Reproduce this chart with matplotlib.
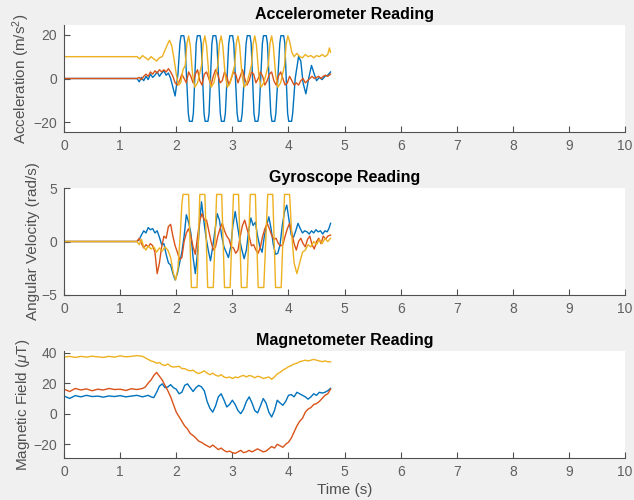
import matplotlib
matplotlib.use("Agg")
import matplotlib.pyplot as plt

# ---------------- Accelerometer ----------------
acc_x_t = [0, 1.30, 1.34, 1.38, 1.42, 1.46, 1.50, 1.54, 1.58, 1.62, 1.66, 1.70, 1.74, 1.78,
           1.82, 1.86, 1.90, 1.94, 1.98, 2.03,
           2.065, 2.085, 2.135, 2.155, 2.215, 2.235, 2.285, 2.305,
           2.355, 2.375, 2.425, 2.445, 2.495, 2.515, 2.565, 2.585,
           2.635, 2.655, 2.705, 2.725, 2.785, 2.805, 2.855, 2.875,
           2.935, 2.955, 3.005, 3.025, 3.085, 3.105, 3.155, 3.175,
           3.245, 3.265, 3.315, 3.335, 3.385, 3.405, 3.455, 3.475,
           3.535, 3.555, 3.605, 3.625, 3.685, 3.705, 3.755, 3.775,
           3.845, 3.865, 3.915, 3.935, 3.985, 4.005, 4.055, 4.075,
           4.12, 4.18, 4.22, 4.26, 4.31, 4.36, 4.41, 4.46, 4.50, 4.55, 4.60, 4.65, 4.70, 4.75]
acc_x_v = [0, 0, -1.5, 0.5, -1, 1, -0.5, 2, 0.5, 1.5, 3, 1, 2.5, 3.5,
           1.5, 2.5, 0, -4, -8, 2,
           16, 19.6, 19.6, 16, -16, -19.6, -19.6, -16,
           16, 19.6, 19.6, 16, -16, -19.6, -19.6, -16,
           16, 19.6, 19.6, 16, -16, -19.6, -19.6, -16,
           16, 19.6, 19.6, 16, -16, -19.6, -19.6, -16,
           16, 19.6, 19.6, 16, -16, -19.6, -19.6, -16,
           16, 19.6, 19.6, 16, -16, -19.6, -19.6, -16,
           16, 19.6, 19.6, 16, -16, -19.6, -19.6, -16,
           0, 10, 8, -2, -7, 0, 6, 2, -1, 0.5, -0.5, 1, 1.5, 3]

acc_y_t = [0, 1.30, 1.34, 1.38, 1.42, 1.46, 1.50, 1.54, 1.58, 1.62, 1.66, 1.70, 1.74, 1.78,
           1.82, 1.86, 1.90, 1.94, 1.98, 2.02, 2.06, 2.10, 2.14, 2.18, 2.22, 2.26, 2.30, 2.34,
           2.38, 2.42, 2.46, 2.50, 2.54, 2.58, 2.62, 2.66, 2.70, 2.74, 2.78, 2.82, 2.86, 2.90,
           2.94, 2.98, 3.02, 3.06, 3.10, 3.14, 3.18, 3.22, 3.26, 3.30, 3.34, 3.38, 3.42, 3.46,
           3.50, 3.54, 3.58, 3.62, 3.66, 3.70, 3.74, 3.78, 3.82, 3.86, 3.90, 3.94, 3.98, 4.02,
           4.06, 4.10, 4.14, 4.18, 4.22, 4.26, 4.30, 4.34, 4.38, 4.42, 4.46, 4.50, 4.54, 4.58,
           4.62, 4.66, 4.70, 4.75]
acc_y_v = [0, 0, 0.5, -0.5, 1, 2, 1, 3, 2, 3.5, 2.5, 4, 3, 4,
           3, 4.5, 3, 1, -2, -3, -1, 2, 0, -2, 3, 1, -2, 2,
           4, -1, -3, 2, 3, 0, -3, 1, 4, 2, -2, -1, 3, 1,
           -3, 0, 3, 2, -2, 1, 4, 0, -3, -1, 3, 2, -2, 0,
           3, 1, -3, -1, 2, 3, -1, -3, 1, 3, 0, -3, -2, 1,
           -1, -3, -2, -3, -1, 0, -2, -1, 0, 1, 0, 0.5, 1, 0,
           1, 1.5, 1, 2]

acc_z_t = [0, 1.30, 1.35, 1.40, 1.45, 1.50, 1.55, 1.60, 1.65, 1.70, 1.75, 1.80, 1.85, 1.88,
           1.92, 1.96, 2.00, 2.04, 2.08, 2.12,
           2.16, 2.19, 2.22, 2.25, 2.29, 2.33, 2.38,
           2.45, 2.48, 2.51, 2.54, 2.58, 2.62, 2.67,
           2.74, 2.77, 2.80, 2.83, 2.87, 2.91, 2.96,
           3.04, 3.07, 3.10, 3.13, 3.17, 3.21, 3.26,
           3.34, 3.37, 3.40, 3.43, 3.47, 3.51, 3.56,
           3.64, 3.67, 3.70, 3.73, 3.77, 3.81, 3.86,
           3.93, 3.96, 3.99, 4.02, 4.06, 4.10, 4.15, 4.20, 4.25, 4.30, 4.35, 4.40, 4.45,
           4.50, 4.55, 4.60, 4.65, 4.70, 4.73, 4.75]
acc_z_v = [10, 10, 9, 10.5, 9.5, 8.5, 10, 9, 8, 9.5, 10, 13, 16, 17.5,
           15, 9, 2, -3, -2, 4,
           6, 16, 19.5, 15, 2, -4, -2,
           6, 16, 19.5, 15, 2, -4, -2,
           6, 16, 19.5, 15, 2, -4, -2,
           6, 16, 19.5, 15, 2, -4, -2,
           6, 16, 19.5, 15, 2, -4, -2,
           6, 16, 19.5, 15, 2, -4, -2,
           6, 16, 19.5, 17, 12, 10, 11.5, 10, 9.5, 11, 10, 10.5, 9.5,
           10.5, 10, 11, 10, 11, 14, 12]

# ---------------- Gyroscope ----------------
gyr_x_t = [0, 1.30, 1.34, 1.38, 1.42, 1.46, 1.50, 1.54, 1.58, 1.62, 1.66, 1.70, 1.74, 1.78,
           1.82, 1.86, 1.90, 1.94, 1.98, 2.02, 2.06, 2.10, 2.14, 2.18, 2.22, 2.26, 2.30, 2.34,
           2.38, 2.42, 2.45, 2.49, 2.53, 2.57, 2.61, 2.65, 2.69, 2.73, 2.77, 2.81, 2.85, 2.89,
           2.93, 2.97, 3.01, 3.05, 3.09, 3.13, 3.17, 3.21, 3.25, 3.29, 3.33, 3.37, 3.41, 3.45,
           3.49, 3.53, 3.57, 3.61, 3.65, 3.69, 3.73, 3.77, 3.81, 3.85, 3.89, 3.93, 3.97, 4.01,
           4.05, 4.09, 4.13, 4.17, 4.21, 4.25, 4.29, 4.33, 4.37, 4.41, 4.45, 4.49, 4.53, 4.57,
           4.61, 4.65, 4.69, 4.72, 4.75]
gyr_x_v = [0, 0, 0.2, 0.6, 1.0, 0.8, 1.3, 1.1, 1.2, 0.8, 1.0, 0.4, -0.3, -0.2,
           -1.2, -2.0, -2.2, -3.0, -3.6, -3.0, -2.0, -1.0, 0.5, 2.5, 1.8, 0.8, -1.5, -3.0,
           -1.0, 2.0, 3.7, 2.0, 0.4, -0.8, -1.8, -0.5, 1.0, 2.6, 2.0, 0.5, -0.5, -1.0,
           -1.5, -0.5, 1.5, 2.8, 1.5, 0.2, -0.8, -1.6, -0.8, 1.0, 2.2, 1.5, 1.8, 0.5,
           -0.5, -1.0, 0.5, 1.5, 2.3, 1.2, -0.3, -1.2, -1.1, -0.3, 1.5, 2.8, 3.4, 2.0,
           0.6, 0.4, 1.0, 1.7, 1.2, 0.8, 1.0, 0.9, 0.7, 1.0, 0.8, 1.1, 0.9, 1.0,
           0.7, 1.0, 0.9, 1.2, 1.7]

gyr_y_t = [0, 1.30, 1.34, 1.38, 1.42, 1.46, 1.50, 1.54, 1.58, 1.62, 1.66, 1.70, 1.74, 1.78,
           1.82, 1.86, 1.90, 1.94, 1.98, 2.02, 2.06, 2.10, 2.14, 2.18, 2.22, 2.26, 2.30, 2.34,
           2.38, 2.42, 2.46, 2.50, 2.54, 2.58, 2.62, 2.66, 2.70, 2.74, 2.78, 2.82, 2.86, 2.90,
           2.94, 2.98, 3.02, 3.06, 3.10, 3.14, 3.18, 3.22, 3.26, 3.30, 3.34, 3.38, 3.42, 3.46,
           3.50, 3.54, 3.58, 3.62, 3.66, 3.70, 3.74, 3.78, 3.82, 3.86, 3.90, 3.94, 3.98, 4.02,
           4.06, 4.10, 4.14, 4.18, 4.22, 4.26, 4.30, 4.34, 4.38, 4.42, 4.46, 4.50, 4.54, 4.58,
           4.62, 4.66, 4.70, 4.75]
gyr_y_v = [0, 0, 0.3, -0.2, -0.6, -0.3, -0.5, -0.2, -0.4, -1.0, -3.0, -2.0, -0.5, 0.5,
           0.3, 1.4, 1.6, 0.5, -0.4, -1.0, -1.7, -1.5, 0.0, 0.8, 1.2, 0.5, -0.5, -1.2,
           0.5, 2.0, 2.6, 2.0, 2.0, 1.0, 0.0, -0.8, -0.5, 0.5, 1.2, 1.7, 1.0, 0.5,
           0.2, -0.5, -0.6, -1.1, -0.8, 0.5, 1.5, 2.0, 1.2, 0.5, -0.4, -0.3, -0.8, -1.1,
           -0.5, 0.5, 1.2, 1.7, 1.2, 0.6, 0.2, 0.3, -0.2, -0.4, -0.3, 0.5, 1.2, 1.7,
           0.8, -0.2, -0.8, 0.0, 0.3, -0.2, -0.5, 0.2, 0.5, -0.3, -0.7, 0.0, 0.3, -0.2,
           0.5, 0.2, 0.5, 0.6]

gyr_z_t = [0, 1.30, 1.34, 1.38, 1.42, 1.46, 1.50, 1.55, 1.60, 1.65, 1.70, 1.75, 1.80, 1.85,
           1.90, 1.95, 1.99, 2.03, 2.07, 2.10,
           2.12, 2.22, 2.27, 2.37, 2.42, 2.51, 2.56, 2.66, 2.72, 2.81, 2.86, 2.96,
           3.02, 3.11, 3.16, 3.26, 3.32, 3.41, 3.46, 3.56, 3.63, 3.72, 3.77, 3.87,
           3.93, 4.02, 4.06, 4.10, 4.15, 4.20, 4.25, 4.30, 4.35, 4.40, 4.45, 4.50,
           4.55, 4.60, 4.65, 4.70, 4.75]
gyr_z_v = [0, 0, -0.3, 0.2, -0.5, -0.8, -0.4, -0.7, -0.5, -1.0, -0.6, -0.9, -0.5, -0.8,
           -1.5, -3.0, -3.6, -2.5, 0.5, 3.5,
           4.4, 4.4, -4.3, -4.3, 4.4, 4.4, -4.3, -4.3, 4.4, 4.4, -4.3, -4.3,
           4.4, 4.4, -4.3, -4.3, 4.4, 4.4, -4.3, -4.3, 4.4, 4.4, -4.3, -4.3,
           4.4, 4.4, 0.5, -2.0, -3.0, -2.0, -1.0, -0.8, -0.3, -0.5, 0.0, -0.3,
           0.2, -0.2, 0.3, 0.0, 0.3]

# ---------------- Magnetometer ----------------
mag_t = [0.0, 0.1, 0.2, 0.3, 0.4, 0.5, 0.6, 0.7, 0.8, 0.9, 1.0, 1.1, 1.2, 1.3, 1.4,
         1.45, 1.5, 1.55, 1.6, 1.65, 1.7, 1.75, 1.8, 1.85, 1.9, 1.95,
         2.0, 2.05, 2.1, 2.15, 2.2, 2.25, 2.3, 2.35, 2.4, 2.45,
         2.5, 2.55, 2.6, 2.65, 2.7, 2.75, 2.8, 2.85, 2.9, 2.95,
         3.0, 3.05, 3.1, 3.15, 3.2, 3.25, 3.3, 3.35, 3.4, 3.45,
         3.5, 3.55, 3.6, 3.65, 3.7, 3.75, 3.8, 3.85, 3.9, 3.95,
         4.0, 4.05, 4.1, 4.15, 4.2, 4.25, 4.3, 4.35, 4.4, 4.45,
         4.5, 4.55, 4.6, 4.65, 4.7, 4.75]
mag_x = [11.5, 10, 11.8, 11, 12, 11.2, 11.5, 10.8, 11.6, 11.2, 11.8, 11, 11.5, 12, 11,
         11.5, 12, 11, 10.5, 14, 18, 19.5, 17, 17.5, 19, 17,
         16, 13, 14, 18.5, 19.5, 17, 14.5, 17, 18.5, 17.5,
         15, 8, 3.5, 1, 5, 11, 13, 9, 4.4, 6,
         8.8, 6, 2, 0, 3, 8, 11, 7, 2, 0.5,
         5, 9.9, 7, 1, -2.2, 2, 8.8, 7, 5.5, 8,
         12, 12.5, 11, 14, 13, 12, 11, 9.5, 11, 13,
         12, 14, 13.5, 14, 15, 16.6]
mag_y = [16, 14.5, 16.5, 15.5, 16.2, 15, 16, 15.5, 16.5, 15.8, 16, 15.2, 16.3, 15.8, 16.5,
         17.5, 20, 22, 25, 27, 24.5, 22, 18.5, 15, 11, 6,
         1, -2, -5, -8, -10, -13, -14.3, -16, -18, -18.7,
         -20, -21, -22, -20.5, -22, -23.5, -22.5, -24, -25, -24.5,
         -25.5, -26, -25, -24, -25.5, -25, -24, -25, -24, -23,
         -24, -25, -24.5, -23, -21.5, -22.5, -20, -21, -22, -20,
         -18.7, -16, -12, -8, -5, -3, 1, 3, 4, 6,
         6.6, 8, 10, 12, 13, 16]
mag_z = [37, 37.5, 36.8, 37.5, 37, 37.6, 37.2, 36.8, 37.5, 37, 37.8, 37.2, 37.5, 38, 37.5,
         36.5, 35.5, 34.5, 34, 33, 33.5, 32, 31.5, 32.5, 31, 30.5,
         30.7, 31, 29.5, 29.5, 28.5, 28, 28.5, 27, 26.3, 27,
         28, 26.5, 25.5, 26.5, 25.2, 24.5, 25.5, 24, 23.5, 24,
         23, 24, 23.5, 24.5, 25, 24, 25, 24.5, 23.5, 24.5,
         24, 23, 23.5, 24, 22.5, 24, 26, 27, 28.5, 29.5,
         30.7, 31.5, 32.5, 33, 34, 34.5, 35, 34.5, 35, 35.5,
         35, 34.5, 34, 34.5, 34, 34]

titles = ["Accelerometer Reading", "Gyroscope Reading", "Magnetometer Reading"]
ylabels = ["Acceleration (m/s$^2$)", "Angular Velocity (rad/s)", "Magnetic Field ($\\mu$T)"]
xlabel = "Time (s)"
yticks = [[-20, 0, 20], [-5, 0, 5], [-20, 0, 20, 40]]
ylims = [(-24.5, 24.5), (-5, 5), (-29, 41)]
xticks = [0, 1, 2, 3, 4, 5, 6, 7, 8, 9, 10]

C1, C2, C3 = "#0072BD", "#D95319", "#EDB120"

plt.rcParams['font.family'] = ['Liberation Sans', 'DejaVu Sans']
plt.rcParams['mathtext.fontset'] = 'custom'
plt.rcParams['mathtext.rm'] = 'Liberation Sans'
plt.rcParams['mathtext.it'] = 'Liberation Sans:italic'

fig = plt.figure(figsize=(6.34, 5.0), dpi=100, facecolor="#f0f0f0")
bottoms = [0.736, 0.41, 0.084]
axes = [fig.add_axes([0.101, b, 0.885, 0.214]) for b in bottoms]

series = [
    [(acc_x_t, acc_x_v, C1), (acc_y_t, acc_y_v, C2), (acc_z_t, acc_z_v, C3)],
    [(gyr_x_t, gyr_x_v, C1), (gyr_y_t, gyr_y_v, C2), (gyr_z_t, gyr_z_v, C3)],
    [(mag_t, mag_x, C1), (mag_t, mag_y, C2), (mag_t, mag_z, C3)],
]

tick_col = "#606060"
for i, ax in enumerate(axes):
    for t, v, c in series[i]:
        ax.plot(t, v, color=c, lw=1.0)
    ax.set_xlim(0, 10)
    ax.set_ylim(*ylims[i])
    ax.set_xticks(xticks)
    ax.set_yticks(yticks[i])
    ax.set_facecolor("white")
    for s in ["top", "right"]:
        ax.spines[s].set_visible(False)
    for s in ["left", "bottom"]:
        ax.spines[s].set_color("#505050")
        ax.spines[s].set_linewidth(0.8)
    ax.tick_params(direction="in", length=4, width=0.8, colors="#505050",
                   labelcolor=tick_col, labelsize=10, pad=5)
    ax.set_title(titles[i], fontsize=11.5, fontweight="bold", pad=4)
    ax.set_ylabel(ylabels[i], fontsize=11, color="#505050", labelpad=1)

axes[2].set_xlabel(xlabel, fontsize=11, color="#505050", labelpad=3)

fig.savefig("out.png", dpi=100, facecolor=fig.get_facecolor())
